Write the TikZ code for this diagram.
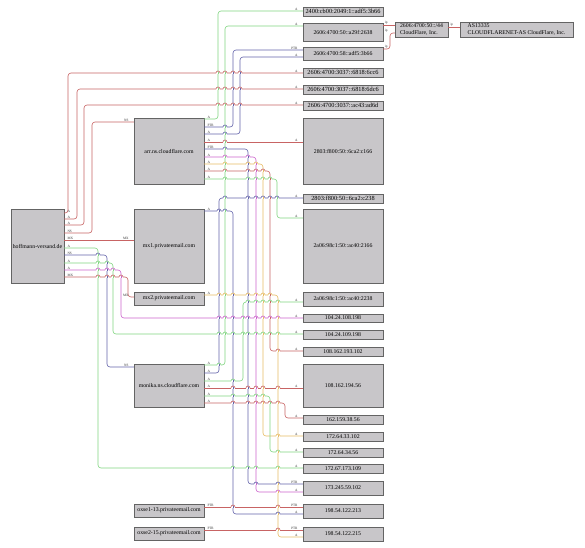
\documentclass[tikz,border=0pt]{standalone}
\usepackage{fontspec}
\setmainfont{Liberation Serif}
\usetikzlibrary{shadows}
\definecolor{ered}{RGB}{200,100,100}
\definecolor{egreen}{RGB}{130,214,130}
\definecolor{eblue}{RGB}{100,100,170}
\definecolor{emag}{RGB}{204,100,204}
\definecolor{eorange}{RGB}{232,188,100}
\definecolor{boxfill}{RGB}{200,198,201}
\definecolor{boxline}{RGB}{100,100,100}
\definecolor{boxshadow}{RGB}{140,140,140}
\newcommand\bx[7][]{\node[box,#1,minimum width={(#5-#3)*1pt},minimum height={(#6-#4)*1pt}] (#2) at ({(#3+#5)/2},{(#4+#6)/2}) {#7};}
\newcommand\hp[4]{%
  \draw[white,line width=1.3pt] ({#1-2},#2) -- ({#1+2},#2);
  \draw[color=#4,line width=0.6pt] (#1,{#2-1}) -- (#1,{#2+1});
  \draw[color=#3,line width=0.6pt] ({#1-2},#2) arc[start angle=180,end angle=360,radius=2];}
\tikzset{
  box/.style={draw=boxline,line width=0.4pt,fill=boxfill,inner sep=0pt,align=center,
    font=\fontsize{5.8}{6.6}\selectfont,
    drop shadow={shadow xshift=1.3pt,shadow yshift=-1.3pt,fill=boxshadow,opacity=1}},
  widetext/.style={font=\fontsize{6.3}{7}\selectfont},
  e/.style={line width=0.6pt,rounded corners=3pt},
  ls/.style={font=\fontsize{3.4}{3.4}\selectfont,text=black!80,inner sep=0pt,anchor=south west,xshift=3pt,yshift=0.5pt},
  lt/.style={font=\fontsize{3.4}{3.4}\selectfont,text=black!80,inner sep=0pt,anchor=south east,xshift=-5pt,yshift=0.5pt},
}
\begin{document}
\begin{tikzpicture}[x=1pt,y=-1pt]
\fill[white] (0,0) rectangle (585,547);
\useasboundingbox (0,0) rectangle (585,547);
% left column
\bx{hoff}{11}{209}{64}{283}{hoffmann-versand.de}
\bx{arr}{134}{118}{204}{184}{arr.ns.cloudflare.com}
\bx{mxa}{134}{209}{204}{283}{mx1.privateemail.com}
\bx{mxb}{134}{292}{204}{305}{mx2.privateemail.com}
\bx{mon}{134}{364}{204}{407}{monika.ns.cloudflare.com}
\bx{oxa}{134}{504}{204}{517}{oxse1-13.privateemail.com}
\bx{oxb}{134}{527}{204}{540}{oxse2-15.privateemail.com}
% right column
\bx[widetext]{r2400}{303}{7}{383}{16}{2400:cb00:2049:1::adf5:3b66}
\bx{ra29f}{303}{23}{383}{41}{2606:4700:50::a29f:2638}
\bx{r58}{303}{47}{383}{60}{2606:4700:58::adf5:3b66}
\bx[widetext]{r6cc6}{303}{68}{383}{77}{2606:4700:3037::6818:6cc6}
\bx[widetext]{r6dc6}{303}{85}{383}{94}{2606:4700:3037::6818:6dc6}
\bx[widetext]{rad6d}{303}{101}{383}{110}{2606:4700:3037::ac43:ad6d}
\bx{rc166}{303}{118}{383}{184}{2803:f800:50::6ca2:c166}
\bx[widetext]{rc238}{303}{194}{383}{203}{2803:f800:50::6ca2:c238}
\bx{r2166}{303}{209}{383}{283}{2a06:98c1:50::ac40:2166}
\bx{r2238}{303}{292}{383}{306}{2a06:98c1:50::ac40:2238}
\bx{ra}{303}{314}{383}{322}{104.24.108.198}
\bx{rb}{303}{330}{383}{339}{104.24.109.198}
\bx{rc}{303}{347}{383}{356}{108.162.193.102}
\bx{rd}{303}{364}{383}{407}{108.162.194.56}
\bx{re}{303}{415}{383}{424}{162.159.38.56}
\bx{rf}{303}{432}{383}{441}{172.64.33.102}
\bx{rg}{303}{448}{383}{457}{172.64.34.56}
\bx{rh}{303}{464}{383}{473}{172.67.173.109}
\bx{ri}{303}{481}{383}{495}{173.245.59.102}
\bx{rj}{303}{504}{383}{518}{198.54.122.213}
\bx{rk}{303}{527}{383}{541}{198.54.122.215}
\bx[align=left]{pfx}{395}{22}{448}{37}{2606:4700:50::/44\\CloudFlare, Inc.}
\bx[align=left]{asn}{460}{22}{573}{37}{AS13335\\CLOUDFLARENET-AS CloudFlare, Inc.}
% hoffmann-versand.de
\draw[e,ered] (hoff.east |- 0,213) node[ls]{A} -| (68,73) -- (r6cc6.west |- 0,73) node[lt]{A};
\draw[e,ered] (hoff.east |- 0,219) node[ls]{A} -| (77,89) -- (r6dc6.west |- 0,89) node[lt]{A};
\draw[e,ered] (hoff.east |- 0,225) node[ls]{A} -| (84,105) -- (rad6d.west |- 0,105) node[lt]{A};
\draw[e,ered] (hoff.east |- 0,233) node[ls]{NS} -| (92,122) -- (arr.west |- 0,122) node[lt]{NS};
\draw[e,ered] (hoff.east |- 0,240) node[ls]{MX} -- (mxa.west |- 0,240) node[lt]{MX};
\draw[e,egreen] (hoff.east |- 0,248) node[ls]{A} -| (98,468) -- (rh.west |- 0,468) node[lt]{A};
\draw[e,eblue] (hoff.east |- 0,255) node[ls]{NS} -| (107,367) -- (mon.west |- 0,367) node[lt]{NS};
\draw[e,egreen] (hoff.east |- 0,263) node[ls]{A} -| (113,334) -- (rb.west |- 0,334) node[lt]{A};
\draw[e,emag] (hoff.east |- 0,270) node[ls]{A} -| (121,318) -- (ra.west |- 0,318) node[lt]{A};
\draw[e,ered] (hoff.east |- 0,277) node[ls]{MX} -| (128,297) -- (mxb.west |- 0,297) node[lt]{MX};
% arr.ns.cloudflare.com
\draw[e,egreen] (arr.east |- 0,119) node[ls]{A} -| (218,11) -- (r2400.west |- 0,11) node[lt]{A};
\draw[e,eblue] (arr.east |- 0,127) node[ls]{PTR} -| (233,50) -- (r58.west |- 0,50) node[lt]{PTR};
\draw[e,eblue] (arr.east |- 0,134) node[ls]{A} -| (240,57) -- (r58.west |- 0,57) node[lt]{A};
\draw[e,ered] (arr.east |- 0,142) node[ls]{A} -- (rc166.west |- 0,142) node[lt]{A};
\draw[e,eblue] (arr.east |- 0,149) node[ls]{PTR} -| (248,484) -- (ri.west |- 0,484) node[lt]{PTR};
\draw[e,emag] (arr.east |- 0,157) node[ls]{A} -| (256,492) -- (ri.west |- 0,492) node[lt]{A};
\draw[e,eorange] (arr.east |- 0,164) node[ls]{A} -| (263,436) -- (rf.west |- 0,436) node[lt]{A};
\draw[e,ered] (arr.east |- 0,171) node[ls]{A} -| (270,351) -- (rc.west |- 0,351) node[lt]{A};
\draw[e,egreen] (arr.east |- 0,179) node[ls]{A} -| (277,218) -- (r2166.west |- 0,218) node[lt]{A};
% mx1 / mx2
\draw[e,eblue] (mxa.east |- 0,211) node[ls]{A} -| (233,514) -- (rj.west |- 0,514) node[lt]{A};
\draw[e,eorange] (mxb.east |- 0,295) node[ls]{A} -| (278,537) -- (rk.west |- 0,537) node[lt]{A};
% monika.ns.cloudflare.com
\draw[e,egreen] (mon.east |- 0,365) node[ls]{A} -| (225,26) -- (ra29f.west |- 0,26) node[lt]{A};
\draw[e,eblue] (mon.east |- 0,373) node[ls]{A} -| (219,198) -- (rc238.west |- 0,198) node[lt]{A};
\draw[e,egreen] (mon.east |- 0,381) node[ls]{A} -| (243,302) -- (r2238.west |- 0,302) node[lt]{A};
\draw[e,ered] (mon.east |- 0,388) node[ls]{A} -- (rd.west |- 0,388) node[lt]{A};
\draw[e,egreen] (mon.east |- 0,396) node[ls]{A} -| (270,452) -- (rg.west |- 0,452) node[lt]{A};
\draw[e,ered] (mon.east |- 0,403) node[ls]{A} -| (285,418) -- (re.west |- 0,418) node[lt]{A};
% ox servers
\draw[e,ered] (oxa.east |- 0,507) node[ls]{PTR} -- (rj.west |- 0,507) node[lt]{PTR};
\draw[e,ered] (oxb.east |- 0,530) node[ls]{PTR} -- (rk.west |- 0,530) node[lt]{PTR};
% ip prefix
\draw[e,ered] (ra29f.east |- 0,25) node[ls,xshift=-1.5pt]{ip} -- (pfx.west |- 0,25);
\draw[e,ered] (r58.east |- 0,49) node[ls,xshift=-1.5pt]{ip} -| (390,33) -- (pfx.west |- 0,33) node[lt,xshift=-2pt]{ip};
\draw[e,ered] (pfx.east |- 0,27) node[ls,xshift=-1pt]{ip} -- (asn.west |- 0,27);
% hops
\foreach \y in {73,89,105}{\foreach \x/\c in {218/egreen,225/egreen,233/eblue,240/eblue}{\hp{\x}{\y}{ered}{\c}}}
\hp{98}{255}{eblue}{egreen}
\foreach \x/\c in {98/egreen,107/eblue}{\hp{\x}{263}{egreen}{\c}}
\foreach \x/\c in {98/egreen,107/eblue,113/egreen}{\hp{\x}{270}{emag}{\c}}
\foreach \x/\c in {98/egreen,107/eblue,113/egreen,121/emag}{\hp{\x}{277}{ered}{\c}}
\foreach \x/\c in {233/eblue,248/eblue,256/emag,278/eorange}{\hp{\x}{468}{egreen}{\c}}
\foreach \x/\c in {219/eblue,225/egreen,233/eblue,243/egreen,248/eblue,256/emag,263/eorange,270/ered,278/eorange}{\hp{\x}{334}{egreen}{\c}\hp{\x}{318}{emag}{\c}}
\hp{225}{127}{eblue}{egreen}
\hp{225}{134}{eblue}{egreen}
\hp{225}{142}{ered}{egreen}
\hp{225}{149}{eblue}{egreen}
\foreach \x/\c in {225/egreen,248/eblue}{\hp{\x}{157}{emag}{\c}}
\foreach \x/\c in {225/egreen,248/eblue,256/emag}{\hp{\x}{164}{eorange}{\c}}
\foreach \x/\c in {225/egreen,248/eblue,256/emag,263/eorange}{\hp{\x}{171}{ered}{\c}}
\foreach \x/\c in {225/egreen,248/eblue,256/emag,263/eorange,270/ered}{\hp{\x}{179}{egreen}{\c}}
\foreach \x/\c in {219/eblue,225/egreen}{\hp{\x}{211}{eblue}{\c}}
\hp{278}{514}{eblue}{eorange}
\foreach \x/\c in {219/eblue,225/egreen,233/eblue,248/eblue,256/emag,263/eorange,270/ered}{\hp{\x}{295}{eorange}{\c}}
\hp{219}{365}{egreen}{eblue}
\foreach \x/\c in {225/egreen,248/eblue,256/emag,263/eorange,270/ered,277/egreen}{\hp{\x}{198}{eblue}{\c}}
\hp{233}{381}{egreen}{eblue}
\foreach \x/\c in {248/eblue,256/emag,263/eorange,270/ered,278/eorange}{\hp{\x}{302}{egreen}{\c}}
\foreach \x/\c in {233/eblue,248/eblue,256/emag,263/eorange,278/eorange}{\hp{\x}{388}{ered}{\c}}
\foreach \x/\c in {233/eblue,248/eblue,256/emag,263/eorange}{\hp{\x}{396}{egreen}{\c}}
\hp{278}{452}{egreen}{eorange}
\foreach \x/\c in {233/eblue,248/eblue,256/emag,263/eorange,270/egreen,278/eorange}{\hp{\x}{403}{ered}{\c}}
\foreach \x/\c in {233/eblue,278/eorange}{\hp{\x}{507}{ered}{\c}}
\hp{278}{530}{ered}{eorange}
\foreach \x/\c in {256/emag,278/eorange}{\hp{\x}{484}{eblue}{\c}}
\hp{278}{492}{emag}{eorange}
\hp{278}{436}{eorange}{eorange}
\hp{278}{351}{ered}{eorange}
\end{tikzpicture}
\end{document}
